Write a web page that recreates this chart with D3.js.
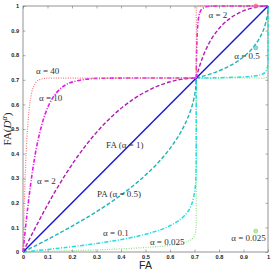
<!DOCTYPE html>
<html>
<head>
<meta charset="utf-8">
<script src="https://cdn.jsdelivr.net/npm/d3@7"></script>
<style>
  body { margin: 0; background: #fff; }
  svg { display: block; }
</style>
</head>
<body>
<svg id="chart"></svg>
<script>
// FA(D^alpha) against FA. Each curve has a lower part
// (FA 0 .. 0.707) and an upper part (FA 0.707 .. 1).
var a40Lo = [[0,0],[0.0006,0.0230],[0.0012,0.0456],[0.0023,0.0897],[0.0035,0.1323],[0.0058,0.2116],[0.0087,0.2993],[0.0116,0.3738],[0.0175,0.4875],[0.0234,0.5636],[0.0293,0.6137],[0.0414,0.6678],[0.0597,0.6966],[0.0909,0.7061],[0.1231,0.7070],[0.1901,0.7071],[0.3333,0.7071],[0.7071,0.7071]];
var a40Hi = [[0.7071,0.7071],[0.7071,0.7141],[0.7071,0.7334],[0.7072,0.7926],[0.7073,0.8533],[0.7076,0.9347],[0.7091,0.9926],[0.7157,0.9999],[0.7282,1],[0.7746,1],[1,1]];

var a10Lo = [[0,0],[0.0029,0.0287],[0.0058,0.0570],[0.0116,0.1120],[0.0175,0.1646],[0.0293,0.2613],[0.0414,0.3452],[0.0597,0.4472],[0.0909,0.5625],[0.1231,0.6294],[0.1562,0.6668],[0.1901,0.6870],[0.2604,0.7028],[0.3333,0.7064],[0.4082,0.7070],[0.5601,0.7071],[0.7071,0.7071]];
var a10Hi = [[0.7071,0.7071],[0.7071,0.7089],[0.7072,0.7142],[0.7073,0.7227],[0.7074,0.7341],[0.7076,0.7478],[0.7080,0.7797],[0.7091,0.8301],[0.7117,0.9003],[0.7157,0.9454],[0.7211,0.9715],[0.7282,0.9858],[0.7476,0.9970],[0.7746,0.9995],[0.8513,1],[1,1]];

var a2Lo = [[0,0],[0.0293,0.0581],[0.0597,0.1166],[0.0909,0.1747],[0.1231,0.2319],[0.1562,0.2875],[0.1901,0.3408],[0.2249,0.3913],[0.2604,0.4386],[0.2966,0.4823],[0.3333,0.5222],[0.3706,0.5582],[0.4082,0.5902],[0.4462,0.6182],[0.4842,0.6422],[0.5222,0.6623],[0.5601,0.6786],[0.5977,0.6911],[0.6348,0.7000],[0.6713,0.7053],[0.7071,0.7071]];
var a2Hi = [[0.7071,0.7071],[0.7076,0.7090],[0.7091,0.7148],[0.7117,0.7248],[0.7157,0.7389],[0.7282,0.7777],[0.7476,0.8254],[0.7746,0.8745],[0.8094,0.9187],[0.8513,0.9543],[0.8987,0.9798],[0.9492,0.9950],[0.9747,0.9988],[1,1]];

var a1 = [[0,0],[1,1]];

var a05Lo = [[0,0],[0.0581,0.0293],[0.1166,0.0597],[0.1747,0.0909],[0.2319,0.1231],[0.2875,0.1562],[0.3408,0.1901],[0.3913,0.2249],[0.4386,0.2604],[0.4823,0.2966],[0.5222,0.3333],[0.5582,0.3706],[0.5902,0.4082],[0.6182,0.4462],[0.6422,0.4842],[0.6623,0.5222],[0.6786,0.5601],[0.6911,0.5977],[0.7000,0.6348],[0.7053,0.6713],[0.7071,0.7071]];
var a05Hi = [[0.7071,0.7071],[0.7090,0.7076],[0.7148,0.7091],[0.7248,0.7117],[0.7389,0.7157],[0.7777,0.7282],[0.8254,0.7476],[0.8745,0.7746],[0.9187,0.8094],[0.9543,0.8513],[0.9798,0.8987],[0.9950,0.9492],[0.9988,0.9747],[1,1]];

var a01Lo = [[0,0],[0.0287,0.0029],[0.0570,0.0058],[0.1120,0.0116],[0.1646,0.0175],[0.2613,0.0293],[0.3452,0.0414],[0.4472,0.0597],[0.5625,0.0909],[0.6294,0.1231],[0.6668,0.1562],[0.6870,0.1901],[0.7028,0.2604],[0.7064,0.3333],[0.7070,0.4082],[0.7071,0.5601],[0.7071,0.7071]];
var a01Hi = [[0.7071,0.7071],[0.7089,0.7071],[0.7142,0.7072],[0.7227,0.7073],[0.7341,0.7074],[0.7478,0.7076],[0.7797,0.7080],[0.8301,0.7091],[0.9003,0.7117],[0.9454,0.7157],[0.9715,0.7211],[0.9858,0.7282],[0.9970,0.7476],[0.9995,0.7746],[1,0.8513],[1,1]];

var a0025Lo = [[0,0],[0.0230,0.0006],[0.0456,0.0012],[0.0897,0.0023],[0.1323,0.0035],[0.2116,0.0058],[0.2993,0.0087],[0.3738,0.0116],[0.4875,0.0175],[0.5636,0.0234],[0.6137,0.0293],[0.6678,0.0414],[0.6966,0.0597],[0.7061,0.0909],[0.7070,0.1231],[0.7071,0.1901],[0.7071,0.3333],[0.7071,0.7071]];
var a0025Hi = [[0.7071,0.7071],[0.7141,0.7071],[0.7334,0.7071],[0.7926,0.7072],[0.8533,0.7073],[0.9347,0.7076],[0.9926,0.7091],[0.9999,0.7157],[1,0.7282],[1,0.7746],[1,1]];

// small circle markers near the right edge
var markerPts = [[0.95,1.0],[0.95,0.83],[0.95,0.085]];
var markerColors = ["#f07090","#40c8c8","#90e070"];

var tickVals = [0,0.1,0.2,0.3,0.4,0.5,0.6,0.7,0.8,0.9,1];
var tickLabels = ["0","0.1","0.2","0.3","0.4","0.5","0.6","0.7","0.8","0.9","1"];

// text labels: [text, x, y] in data units
var notes = [
  ["α = 40", 0.053, 0.722],
  ["α = 10", 0.065, 0.612],
  ["α = 2", 0.757, 0.952],
  ["α = 0.5", 0.862, 0.784],
  ["FA (α = 1)", 0.339, 0.424],
  ["α = 2", 0.057, 0.278],
  ["PA (α = 0.5)", 0.302, 0.224],
  ["α = 0.1", 0.327, 0.065],
  ["α = 0.025", 0.518, 0.029],
  ["α = 0.025", 0.85, 0.045]
];

var width = 273, height = 271;
var margin = {left: 23, right: 5, top: 6, bottom: 19};

var svg = d3.select("#chart").attr("width", width).attr("height", height);

var x = d3.scaleLinear().domain([0,1]).range([margin.left, width - margin.right]);
var y = d3.scaleLinear().domain([0,1]).range([height - margin.bottom, margin.top]);

var line = d3.line()
    .x(function(d) { return x(d[0]); })
    .y(function(d) { return y(d[1]); })
    .curve(d3.curveCatmullRom.alpha(0.5));

// axes, MATLAB style: ticks inside on all four sides
var tickFmt = function(d, i) { return tickLabels[i]; };
function styleAxis(g) {
  g.select(".domain").remove();
  g.selectAll(".tick line").attr("stroke", "#777").attr("stroke-width", 0.6);
  g.selectAll("text").attr("font-family", "Liberation Sans, Arial, sans-serif")
    .attr("font-size", 5.6).attr("font-weight", "bold").attr("fill", "#222");
}
svg.append("g").attr("transform", "translate(0," + y(0) + ")")
  .call(d3.axisBottom(x).tickValues(tickVals).tickFormat(tickFmt).tickSize(-2.5).tickPadding(3.5))
  .call(styleAxis);
svg.append("g").attr("transform", "translate(0," + y(1) + ")")
  .call(d3.axisTop(x).tickValues(tickVals).tickFormat("").tickSize(-2.5))
  .call(styleAxis);
svg.append("g").attr("transform", "translate(" + x(0) + ",0)")
  .call(d3.axisLeft(y).tickValues(tickVals).tickFormat(tickFmt).tickSize(-2.5).tickPadding(4))
  .call(styleAxis);
svg.append("g").attr("transform", "translate(" + x(1) + ",0)")
  .call(d3.axisRight(y).tickValues(tickVals).tickFormat("").tickSize(-2.5))
  .call(styleAxis);

svg.append("rect")
  .attr("x", x(0)).attr("y", y(1))
  .attr("width", x(1) - x(0)).attr("height", y(0) - y(1))
  .attr("fill", "none").attr("stroke", "#666").attr("stroke-width", 0.7);

var curves = [
  {data: [a0025Lo, a0025Hi], color: "#8fe27f", dash: "1,1.4", w: 1.2},
  {data: [a01Lo, a01Hi], color: "#22dede", dash: "4,1.6,1,1.6", w: 1.5},
  {data: [a05Lo, a05Hi], color: "#20b4b4", dash: "4,2", w: 1.4},
  {data: [a1], color: "#1414d8", dash: null, w: 1.4},
  {data: [a2Lo, a2Hi], color: "#b01cb4", dash: "4,2", w: 1.4},
  {data: [a10Lo, a10Hi], color: "#e01ee0", dash: "4,1.6,1,1.6", w: 1.6},
  {data: [a40Lo, a40Hi], color: "#f07a80", dash: "1,1.4", w: 1.2}
];

curves.forEach(function(c) {
  c.data.forEach(function(seg) {
    svg.append("path")
      .datum(seg)
      .attr("d", line)
      .attr("fill", "none")
      .attr("stroke", c.color)
      .attr("stroke-width", c.w)
      .attr("stroke-dasharray", c.dash);
  });
});

svg.selectAll("circle.mark")
  .data(markerPts)
  .enter().append("circle")
  .attr("class", "mark")
  .attr("cx", function(d) { return x(d[0]); })
  .attr("cy", function(d) { return y(d[1]); })
  .attr("r", 2)
  .attr("fill", function(d, i) { return markerColors[i]; })
  .attr("fill-opacity", 0.6)
  .attr("stroke", function(d, i) { return markerColors[i]; })
  .attr("stroke-width", 0.8);

svg.selectAll("text.note")
  .data(notes)
  .enter().append("text")
  .attr("class", "note")
  .attr("x", function(d) { return x(d[1]); })
  .attr("y", function(d) { return y(d[2]); })
  .attr("font-family", "Liberation Serif, DejaVu Serif, serif")
  .attr("font-size", 9)
  .attr("fill", "#333")
  .text(function(d) { return d[0]; });

svg.append("text")
  .attr("x", (x(0) + x(1)) / 2)
  .attr("y", 269)
  .attr("text-anchor", "middle")
  .attr("font-family", "Liberation Sans, Arial, sans-serif")
  .attr("font-size", 10.5)
  .attr("fill", "#222")
  .text("FA");

var ylab = svg.append("text")
  .attr("transform", "translate(11," + ((y(0) + y(1)) / 2) + ") rotate(-90)")
  .attr("text-anchor", "middle")
  .attr("font-family", "Liberation Serif, DejaVu Serif, serif")
  .attr("font-size", 11)
  .attr("fill", "#222");
ylab.append("tspan").text("FA(");
ylab.append("tspan").attr("font-style", "italic").text("D");
ylab.append("tspan").attr("font-style", "italic").attr("font-size", 8).attr("dy", -4).text("α");
ylab.append("tspan").attr("dy", 4).text(")");
</script>
</body>
</html>
